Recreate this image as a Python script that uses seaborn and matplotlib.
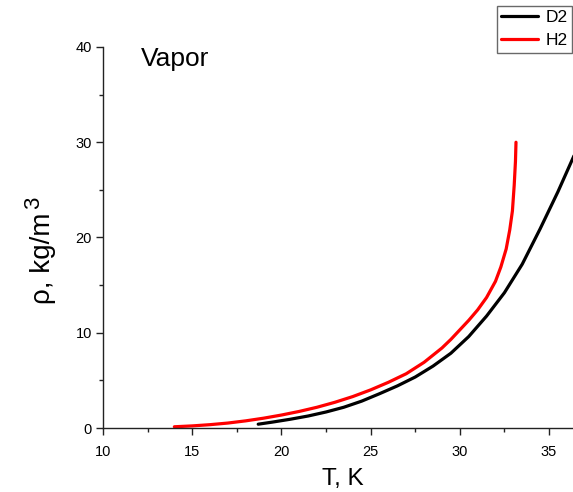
import numpy as np
import pandas as pd
import matplotlib
matplotlib.use("Agg")
import matplotlib.pyplot as plt
from matplotlib.ticker import MultipleLocator
import seaborn as sns

# ---- data ----
series_names = ["D2", "H2"]
series_colors = ["black", "red"]

t_d2 = [18.7, 19.5, 20.5, 21.5, 22.5, 23.5, 24.5, 25.5, 26.5, 27.5, 28.5,
        29.5, 30.5, 31.5, 32.5, 33.5, 34.5, 35.5, 36.5]
rho_d2 = [0.40, 0.62, 0.92, 1.26, 1.68, 2.18, 2.82, 3.60, 4.42, 5.35, 6.50,
          7.85, 9.60, 11.75, 14.20, 17.20, 20.90, 24.80, 29.00]

t_h2 = [14.0, 15.0, 16.0, 17.0, 18.0, 19.0, 20.0, 21.0, 22.0, 23.0, 24.0,
        25.0, 26.0, 27.0, 28.0, 29.0, 29.5, 30.0, 30.5, 31.0, 31.5, 32.0,
        32.3, 32.6, 32.8, 32.95, 33.05, 33.12, 33.15]
rho_h2 = [0.13, 0.22, 0.35, 0.52, 0.75, 1.03, 1.36, 1.74, 2.18, 2.70, 3.30,
          4.00, 4.80, 5.70, 6.90, 8.40, 9.30, 10.30, 11.30, 12.40, 13.70, 15.40,
          16.90, 18.80, 20.80, 22.80, 25.50, 28.00, 30.00]

x_ticks = [10, 15, 20, 25, 30, 35]
y_ticks = [0, 10, 20, 30, 40]

df = pd.concat([
    pd.DataFrame({"T": t_d2, "rho": rho_d2, "gas": "D2"}),
    pd.DataFrame({"T": t_h2, "rho": rho_h2, "gas": "H2"}),
], ignore_index=True)

# ---- style ----
sns.set_style("ticks")
plt.rcParams["font.family"] = ["Liberation Sans", "DejaVu Sans"]
for k in ["text.color", "axes.labelcolor", "xtick.color", "ytick.color"]:
    plt.rcParams[k] = "black"

W, H = 573, 492
fig = plt.figure(figsize=(W / 100, H / 100), dpi=100)
ax = fig.add_axes([103 / W, 64 / H, 1 - 103 / W, 381 / H])

sns.lineplot(data=df, x="T", y="rho", hue="gas", hue_order=series_names,
             palette=dict(zip(series_names, series_colors)), linewidth=2.3,
             ax=ax, sort=False)

ax.set_xlim(10, 10 + 470 / 17.84)
ax.set_ylim(0, 40)
ax.set_xticks(x_ticks)
ax.set_yticks(y_ticks)
ax.xaxis.set_minor_locator(MultipleLocator(2.5))
ax.yaxis.set_minor_locator(MultipleLocator(5))
ax.tick_params(which="major", direction="out", length=5, width=1,
               labelsize=10.5, colors="#222222", labelcolor="black")
ax.tick_params(axis="x", which="major", pad=7)
ax.tick_params(axis="y", which="major", pad=3)
ax.tick_params(which="minor", direction="out", length=3, width=1,
               colors="#222222")

for s in ["top", "right"]:
    ax.spines[s].set_visible(False)
for s in ["left", "bottom"]:
    ax.spines[s].set_color("#222222")
    ax.spines[s].set_linewidth(1)

ax.set_xlabel("T, K", fontsize=17.5)
ax.set_ylabel("ρ, kg/m", fontsize=20)
ax.xaxis.set_label_coords(0.511, -0.105)
ax.yaxis.set_label_coords(-0.10, 0.445)
fig.text(34 / W, 1 - 203 / H, "3", rotation=90, ha="center", va="center",
         fontsize=16)

ax.text(12.15, 38.0, "Vapor", fontsize=19, va="baseline", ha="left")

handles, labels = ax.get_legend_handles_labels()
leg = ax.legend(handles, labels, loc="upper right",
                bbox_to_anchor=(572 / W, 1 - 6 / H),
                bbox_transform=fig.transFigure, fontsize=12.5,
                frameon=True, fancybox=False, borderaxespad=0,
                handlelength=2.1, handletextpad=0.45, borderpad=0.25,
                labelspacing=0.45)
leg.get_frame().set_edgecolor("#444444")
leg.get_frame().set_linewidth(1)
for l in leg.get_lines():
    l.set_linewidth(2.3)

fig.savefig("out.png", dpi=100)
